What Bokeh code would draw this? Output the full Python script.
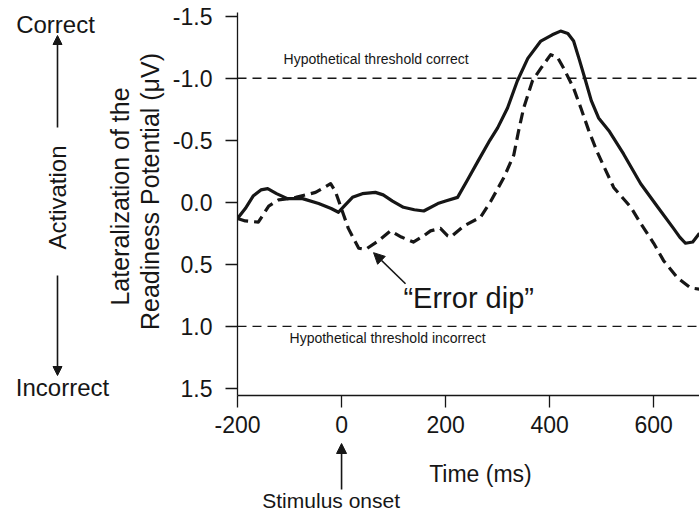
import math
from bokeh.plotting import figure
from bokeh.layouts import row, column
from bokeh.models import (Range1d, FixedTicker, PrintfTickFormatter, Label,
                          Arrow, NormalHead, Span)
from bokeh.embed import file_html
from bokeh.resources import INLINE

# ---- data ----
time_correct = [-200, -185, -170, -155, -142, -125, -104, -75, -44, -20, -6, 5, 21, 40,
                65, 80, 98, 119, 140, 158, 185, 200, 223, 242, 262, 285, 300, 319, 338,
                358, 383, 405, 421, 435, 446, 457, 469, 480, 494, 515, 542, 575, 608,
                638, 650, 661, 675, 688]
lrp_correct = [0.13, 0.05, -0.05, -0.10, -0.11, -0.07, -0.03, -0.03, 0.01, 0.05, 0.08,
               0.03, -0.04, -0.07, -0.08, -0.06, -0.01, 0.04, 0.06, 0.07, 0.01, -0.01,
               -0.04, -0.18, -0.33, -0.50, -0.60, -0.76, -0.98, -1.16, -1.30, -1.35,
               -1.38, -1.36, -1.30, -1.15, -0.98, -0.82, -0.68, -0.57, -0.39, -0.15,
               0.04, 0.21, 0.28, 0.33, 0.32, 0.25]

time_error = [-200, -185, -160, -140, -121, -100, -88, -50, -21, -12, -2, 13, 33, 46, 71,
              94, 115, 138, 158, 171, 190, 204, 210, 235, 267, 287, 312, 331, 340, 350,
              367, 383, 402, 415, 427, 446, 460, 475, 492, 523, 556, 575, 600, 619, 646,
              671, 688]
lrp_error = [0.13, 0.15, 0.16, 0.03, -0.02, -0.03, -0.04, -0.08, -0.15, -0.09, 0.03,
             0.21, 0.37, 0.38, 0.31, 0.23, 0.28, 0.32, 0.27, 0.23, 0.21, 0.27, 0.28,
             0.19, 0.12, -0.01, -0.20, -0.38, -0.57, -0.76, -0.98, -1.08, -1.19, -1.17,
             -1.08, -0.92, -0.76, -0.58, -0.40, -0.12, 0.04, 0.17, 0.33, 0.47, 0.61,
             0.69, 0.70]

x_ticks = [-200, 0, 200, 400, 600]
y_ticks = [-1.5, -1.0, -0.5, 0.0, 0.5, 1.0, 1.5]
thresholds = [-1.0, 1.0]
threshold_labels = ["Hypothetical threshold correct", "Hypothetical threshold incorrect"]

FONT = "Liberation Sans"
INK = "#161616"

LEFT_W = 167
MAIN_W = 699 - LEFT_W
MAIN_H = 442
BOT_H = 513 - MAIN_H

x_range = Range1d(-200, 688)


def bare(fig):
    fig.outline_line_color = None
    fig.background_fill_color = "white"
    fig.border_fill_color = "white"
    fig.grid.visible = False
    return fig


def lab(fig, x, y, text, size, align="left", angle=0.0):
    fig.add_layout(Label(x=x, y=y, text=text, text_font=FONT, text_font_size=size,
                         text_color=INK, text_align=align, text_baseline="middle",
                         angle=angle, angle_units="rad"))


def arrow(fig, x0, y0, x1, y1, size):
    fig.add_layout(Arrow(x_start=x0, y_start=y0, x_end=x1, y_end=y1,
                         line_color=INK, line_width=1.6,
                         end=NormalHead(size=size, fill_color=INK, line_color=INK)))


# ---------------- main chart ----------------
p = figure(width=MAIN_W, height=MAIN_H, output_backend="svg", toolbar_location=None,
           x_range=x_range, y_range=Range1d(1.557, -1.53),
           min_border_left=70, min_border_right=0, min_border_top=12,
           min_border_bottom=MAIN_H - 395)
bare(p)

for ax in (p.xaxis[0], p.yaxis[0]):
    ax.axis_line_color = INK
    ax.axis_line_width = 1.3
    ax.major_tick_line_color = INK
    ax.major_tick_line_width = 1.3
    ax.major_tick_out = 12
    ax.major_tick_in = 0
    ax.minor_tick_line_color = None
    ax.major_label_text_font = FONT
    ax.major_label_text_font_size = "23px"
    ax.major_label_text_color = INK

p.xaxis[0].ticker = FixedTicker(ticks=x_ticks)
p.xaxis[0].formatter = PrintfTickFormatter(format="%d")
p.yaxis[0].ticker = FixedTicker(ticks=y_ticks)
p.yaxis[0].formatter = PrintfTickFormatter(format="%.1f")
p.xaxis[0].major_label_standoff = 8
p.yaxis[0].major_label_standoff = 13

for t in thresholds:
    p.add_layout(Span(location=t, dimension="width", line_color=INK,
                      line_width=1.3, line_dash="9 6"))

p.line(time_correct, lrp_correct, line_color=INK, line_width=3.2, line_join="round")
p.line(time_error, lrp_error, line_color=INK, line_width=3.2, line_dash="11 6",
       line_join="round")

lab(p, -111.5, -1.158, threshold_labels[0], "14px")
lab(p, -100, 1.094, threshold_labels[1], "14px")
lab(p, 119, 0.772, "\u201cError dip\u201d", "29px")
arrow(p, 123, 0.656, 61.5, 0.406, 11)

# ---------------- strip below the chart (page pixels on y) ----------------
b = figure(width=MAIN_W, height=BOT_H, output_backend="svg", toolbar_location=None,
           x_range=x_range, y_range=Range1d(513, MAIN_H),
           x_axis_type=None, y_axis_type=None,
           min_border_left=70, min_border_right=0, min_border_top=0,
           min_border_bottom=0)
bare(b)
lab(b, 267, 473.5, "Time (ms)", "23px", align="center")
lab(b, -20, 499.5, "Stimulus onset", "21px", align="center")
arrow(b, 0, 489, 0, MAIN_H + 1, 10)

# ---------------- left margin (page pixels) ----------------
l = figure(width=LEFT_W, height=513, output_backend="svg", toolbar_location=None,
           x_range=Range1d(0, LEFT_W), y_range=Range1d(513, 0),
           x_axis_type=None, y_axis_type=None,
           min_border_left=0, min_border_right=0, min_border_top=0,
           min_border_bottom=0)
bare(l)
lab(l, 55, 23.5, "Correct", "24px", align="center")
lab(l, 62, 386.5, "Incorrect", "24px", align="center")
lab(l, 57, 197, "Activation", "24px", align="center", angle=math.pi / 2)
arrow(l, 57, 127, 57, 35, 9)
arrow(l, 57, 275, 57, 375, 9)
lab(l, 119, 196, "Lateralization of the", "25px", align="center", angle=math.pi / 2)
lab(l, 149, 191, "Readiness Potential (\u03bcV)", "25px", align="center",
    angle=math.pi / 2)

layout = row(l, column(p, b, spacing=0), spacing=0)

open("out.html", "w").write(file_html(layout, INLINE))
